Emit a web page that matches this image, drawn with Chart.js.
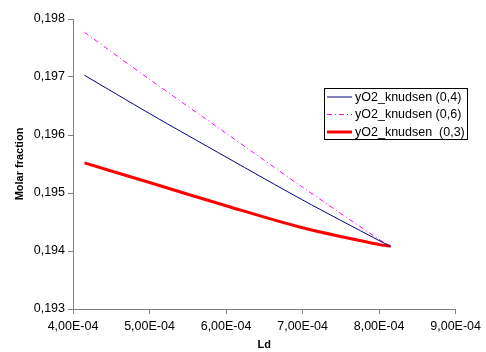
<!DOCTYPE html>
<html>
<head>
<meta charset="utf-8">
<script src="https://cdn.jsdelivr.net/npm/chart.js@4.4.0/dist/chart.umd.min.js"></script>
<style>
  body { margin: 0; background: #fff; }
  #chart { display: block; }
</style>
</head>
<body>
<canvas id="chart" width="486" height="352"></canvas>
<script>
/*=========================-- Data -=======================*/
var ldValues = [4.15e-4, 5.0e-4, 6.0e-4, 7.0e-4, 8.0e-4, 8.15e-4];
var knudsen04 = [0.19703, 0.19637, 0.19562, 0.19488, 0.19418, 0.19408];
var knudsen06 = [0.19777, 0.19696, 0.19603, 0.19510, 0.19420, 0.19408];
var knudsen03 = [0.19552, 0.19518, 0.19478, 0.19440, 0.19411, 0.19408];
var seriesLabels = ['yO2_knudsen (0,4)', 'yO2_knudsen (0,6)', 'yO2_knudsen  (0,3)'];
var yTicks = [0.193, 0.194, 0.195, 0.196, 0.197, 0.198];
var xTicks = [4e-4, 5e-4, 6e-4, 7e-4, 8e-4, 9e-4];

function points(ys){
    return ldValues.map(function(x, i){ return {x: x, y: ys[i]} })
}

function fmtSci(v){
    // 4,00E-04 style
    var s = v.toExponential(2).split('e');
    var exp = parseInt(s[1], 10);
    var sign = exp < 0 ? '-' : '+';
    var e = Math.abs(exp);
    return s[0].replace('.', ',') + 'E' + sign + (e < 10 ? '0' + e : e)
}

var fontFamily = '"Liberation Sans", Arial, sans-serif';

/*=========================-- Legend box -=======================*/
var boxLegend = {
    id: 'boxLegend',
    afterDraw(chart) {
        const ctx = chart.ctx;
        const x0 = 324, y0 = 88, w = 143, h = 51;
        ctx.save();
        ctx.fillStyle = '#fff';
        ctx.fillRect(x0, y0, w, h);
        ctx.strokeStyle = '#000';
        ctx.lineWidth = 1;
        ctx.strokeRect(x0 + 0.5, y0 + 0.5, w, h);
        ctx.font = '12.5px ' + fontFamily;
        ctx.textBaseline = 'middle';
        ctx.fillStyle = '#000';
        chart.data.datasets.forEach(function(ds, i){
            const cy = y0 + 9 + i * 17.5;
            ctx.beginPath();
            ctx.strokeStyle = ds.borderColor;
            ctx.lineWidth = ds.borderWidth;
            ctx.setLineDash(ds.borderDash || []);
            ctx.moveTo(327, cy);
            ctx.lineTo(352, cy);
            ctx.stroke();
            ctx.setLineDash([]);
            ctx.fillText(ds.label, 355, cy + 0.5);
        });
        ctx.restore();
    }
}

/*=========================-- Chart -=======================*/
var tickFont = { family: fontFamily, size: 12.5 };
var titleFont = { family: fontFamily, size: 11, weight: 'bold' };

var config = {
    type: 'scatter',
    data: {
        datasets: [
            {
                label: seriesLabels[0],
                data: points(knudsen04),
                showLine: true,
                borderColor: '#000080',
                borderWidth: 1,
                pointRadius: 0,
                tension: 0.3
            },
            {
                label: seriesLabels[1],
                data: points(knudsen06),
                showLine: true,
                borderColor: '#FF00FF',
                borderWidth: 1,
                borderDash: [5, 3, 1, 3],
                pointRadius: 0,
                tension: 0.3
            },
            {
                label: seriesLabels[2],
                data: points(knudsen03),
                showLine: true,
                borderColor: '#FF0000',
                borderWidth: 3,
                pointRadius: 0,
                tension: 0.3
            }
        ]
    },
    options: {
        responsive: false,
        animation: false,
        layout: { padding: { left: 13, top: 19, right: 29, bottom: 0 } },
        plugins: {
            legend: { display: false },
            tooltip: { enabled: false }
        },
        scales: {
            x: {
                type: 'linear',
                min: 4e-4,
                max: 9e-4,
                afterBuildTicks(scale){ scale.ticks = xTicks.map(function(v){ return {value: v} }) },
                afterFit(scale){ scale.height = 43 },
                grid: { drawOnChartArea: false, color: '#808080', tickLength: 5, tickColor: '#808080' },
                border: { color: '#808080', width: 1 },
                ticks: { color: '#000', font: tickFont, padding: 5, maxRotation: 0,
                         callback: function(v){ return fmtSci(v) } },
                title: { display: true, text: 'Ld', color: '#000', font: titleFont, padding: { top: 4, bottom: 0 } }
            },
            y: {
                min: 0.193,
                max: 0.198,
                afterBuildTicks(scale){ scale.ticks = yTicks.map(function(v){ return {value: v} }) },
                afterFit(scale){ scale.width = 60 },
                grid: { drawOnChartArea: false, color: '#808080', tickLength: 5, tickColor: '#808080' },
                border: { color: '#808080', width: 1 },
                ticks: { color: '#000', font: tickFont, padding: 3,
                         callback: function(v){ return v.toFixed(3).replace('.', ',') } },
                title: { display: true, text: 'Molar fraction', color: '#000', font: titleFont, padding: { top: 0, bottom: 4 } }
            }
        }
    },
    plugins: [boxLegend]
}

var chart = new Chart(document.getElementById('chart'), config);
</script>
</body>
</html>
